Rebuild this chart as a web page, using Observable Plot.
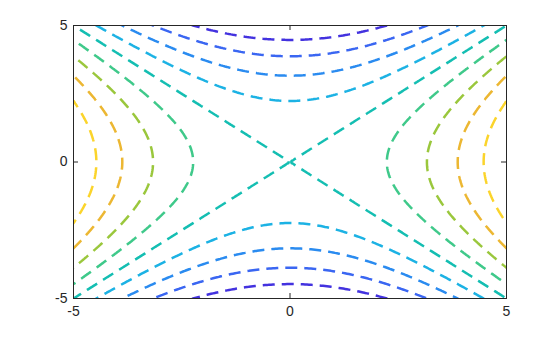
<!DOCTYPE html>
<html>
<head>
<meta charset="utf-8">
<script src="https://cdn.jsdelivr.net/npm/d3@7"></script>
<script src="https://cdn.jsdelivr.net/npm/@observablehq/plot@0.6"></script>
<style>
  html, body { margin: 0; padding: 0; background: #fff; }
  #chart svg { display: block; }
</style>
</head>
<body>
<div id="chart"></div>
<script>
// Contour levels (parula-like)
const levels = [-20, -15, -10, -5, 0, 5, 10, 15, 20];
const levelColors = ["#4332df", "#3a66f2", "#2a8bf0", "#1cb2e4", "#14beb2", "#3fc98a", "#9ac73c", "#ecb732", "#fbd42b"];
const xTicks = [-5, 0, 5];
const yTicks = [-5, 0, 5];
const xDomain = [-5, 5];
const yDomain = [-5, 5];
// surface being contoured: z = x^2 - y^2
const surface = (x, y) => x * x - y * y;

const W = 560, H = 337;
const mL = 73, mR = 54, mT = 25, mB = 39;
const frameH = H - mT - mB;
const frameW = W - mL - mR;
const ink = "#262626";

const chart = Plot.plot({
  width: W,
  height: H,
  marginLeft: mL,
  marginRight: mR,
  marginTop: mT,
  marginBottom: mB,
  style: { fontFamily: "'Liberation Sans', Arial, sans-serif", fontSize: "14px", color: ink, background: "#fff" },
  x: { domain: xDomain, label: null },
  y: { domain: yDomain, label: null },
  color: { type: "ordinal", domain: levels, range: levelColors },
  marks: [
    Plot.contour({
      x1: -6, x2: 6, y1: -6, y2: 6,
      value: surface,
      thresholds: levels,
      fill: "none",
      stroke: "value",
      strokeWidth: 2.5,
      strokeDasharray: "12,7",
      clip: true
    }),
    Plot.frame({ stroke: ink, strokeWidth: 1 }),
    Plot.tickX(xTicks, { x: d => d, insetTop: frameH - 5, stroke: ink }),
    Plot.tickX(xTicks, { x: d => d, insetBottom: frameH - 5, stroke: ink }),
    Plot.tickY(yTicks, { y: d => d, insetRight: frameW - 5, stroke: ink }),
    Plot.tickY(yTicks, { y: d => d, insetLeft: frameW - 5, stroke: ink }),
    Plot.axisX({ ticks: xTicks, tickSize: 0, tickPadding: 8, tickFormat: d => String(d), fontSize: 14, label: null }),
    Plot.axisY({ ticks: yTicks, tickSize: 0, tickPadding: 6, tickFormat: d => String(d), fontSize: 14, label: null })
  ]
});
document.getElementById("chart").appendChild(chart);
</script>
</body>
</html>
